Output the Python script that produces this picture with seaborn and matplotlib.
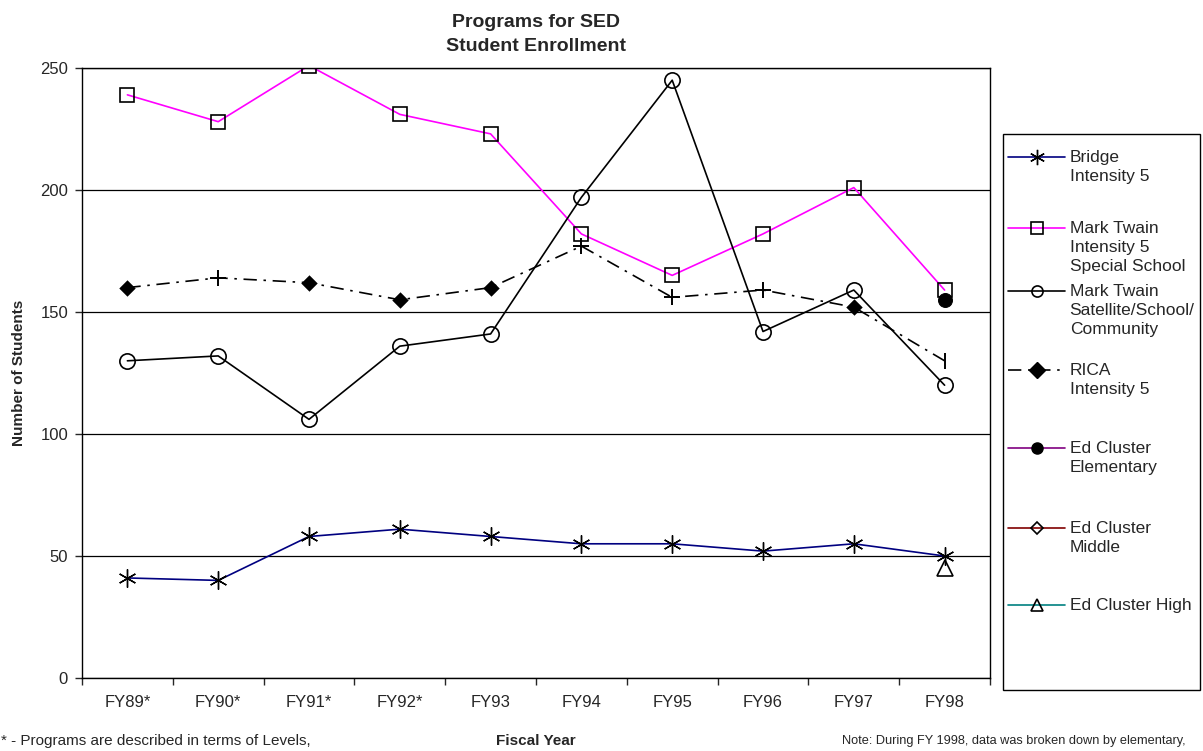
import numpy as np
import pandas as pd
import seaborn as sns
import matplotlib.pyplot as plt
from matplotlib.lines import Line2D
from matplotlib.patches import Rectangle
from matplotlib.ticker import FixedLocator

years = ['FY89*', 'FY90*', 'FY91*', 'FY92*', 'FY93', 'FY94', 'FY95', 'FY96', 'FY97', 'FY98']

bridge = [41, 40, 58, 61, 58, 55, 55, 52, 55, 50]
twain_special = [239, 228, 251, 231, 223, 182, 165, 182, 201, 159]
twain_satellite = [130, 132, 106, 136, 141, 197, 245, 142, 159, 120]
rica = [160, 164, 162, 155, 160, 177, 156, 159, 152, 130]
ed_elem_year, ed_elem = ['FY98'], [155]
ed_high_year, ed_high = ['FY98'], [45]

# markers drawn on the RICA line differ by point in the original
rica_marks = ['D', '+', 'D', 'D', 'D', '+', '+', '+', 'D', '|']

labels = ['Bridge\nIntensity 5', 'Mark Twain\nIntensity 5\nSpecial School',
          'Mark Twain\nSatellite/School/\nCommunity', 'RICA\nIntensity 5',
          'Ed Cluster\nElementary', 'Ed Cluster\nMiddle', 'Ed Cluster High']

sns.set_style('white')
plt.rcParams['font.family'] = ['Liberation Sans', 'DejaVu Sans']

W, H = 1203, 751
fig = plt.figure(figsize=(W / 100, H / 100), dpi=100)
ax = fig.add_axes([82 / W, 1 - 678 / H, (990 - 82) / W, (678 - 68) / H])

df = pd.DataFrame({'year': years, 'bridge': bridge, 'special': twain_special,
                   'satellite': twain_satellite, 'rica': rica})

lw = 1.2
rica_dash = (0, (8, 4, 1.5, 4))
sns.lineplot(data=df, x='year', y='bridge', ax=ax, color='#000080', lw=lw,
             marker=(6, 2, 0), markersize=13, mec='black', mew=1.0, sort=False)
sns.lineplot(data=df, x='year', y='special', ax=ax, color='#ff00ff', lw=lw,
             marker='s', markersize=10, mfc='none', mec='black', mew=1.2, sort=False)
sns.lineplot(data=df, x='year', y='satellite', ax=ax, color='black', lw=lw,
             marker='o', markersize=11, mfc='none', mec='black', mew=1.2, sort=False)
sns.lineplot(data=df, x='year', y='rica', ax=ax, color='black', lw=lw,
             linestyle=rica_dash, sort=False)
for m in ['D', '+', '|']:
    sub = df[[k == m for k in rica_marks]]
    sns.scatterplot(data=sub, x='year', y='rica', ax=ax, marker=m, color='black',
                    s=70 if m == 'D' else 120, linewidth=1.4 if m != 'D' else 0,
                    edgecolor='black', zorder=4)
sns.lineplot(x=ed_elem_year, y=ed_elem, ax=ax, color='#800080', lw=lw,
             marker='o', markersize=10, mfc='black', mec='black')
sns.lineplot(x=ed_high_year, y=ed_high, ax=ax, color='#008080', lw=lw,
             marker='^', markersize=11, mfc='none', mec='black', mew=1.2)

ax.set_xlim(-0.5, 9.5)
ax.set_ylim(0, 250)
ax.set_yticks([0, 50, 100, 150, 200, 250])
ax.yaxis.grid(True, color='black', lw=0.9)
ax.set_axisbelow(True)
for s in ax.spines.values():
    s.set_color('black')
    s.set_linewidth(1.0)

ax.xaxis.set_minor_locator(FixedLocator(np.arange(-0.5, 10, 1)))
ax.tick_params(axis='x', which='major', length=0, pad=12, labelsize=12)
ax.tick_params(axis='x', which='minor', length=5, width=1, direction='out', bottom=True)
ax.tick_params(axis='y', length=5, width=1, direction='out', left=True, labelsize=12, pad=5)

ax.set_xlabel('')
ax.set_ylabel('Number of Students', fontsize=11, fontweight='bold', labelpad=10)
ax.set_title('Programs for SED\nStudent Enrollment', fontsize=14, fontweight='bold',
             pad=12, linespacing=1.6)

# legend: one entry per box, handle level with the first text line
handles = [
    Line2D([], [], color='#000080', lw=lw, marker=(6, 2, 0), ms=11, mec='black', mew=1.0),
    Line2D([], [], color='#ff00ff', lw=lw, marker='s', ms=8, mfc='none', mec='black', mew=1.2),
    Line2D([], [], color='black', lw=lw, marker='o', ms=8, mfc='none', mec='black', mew=1.2),
    Line2D([], [], color='black', lw=lw, ls=rica_dash, marker='D', ms=8, mfc='black', mec='black'),
    Line2D([], [], color='#800080', lw=lw, marker='o', ms=8, mfc='black', mec='black'),
    Line2D([], [], color='#800000', lw=lw, marker='D', ms=6, mfc='none', mec='black', mew=1.2),
    Line2D([], [], color='#008080', lw=lw, marker='^', ms=8, mfc='none', mec='black', mew=1.2),
]
first_line_y = [157, 228, 291, 370, 448, 528, 605]
for hnd, lab, yy in zip(handles, labels, first_line_y):
    lg = fig.legend([hnd], [lab], loc='upper left', bbox_to_anchor=(1008 / W, 1 - (yy - 7) / H),
                    fontsize=12.5, frameon=False, handlelength=3.3, handleheight=1.2,
                    handletextpad=0.25, borderpad=0, borderaxespad=0)
    for t in lg.get_texts():
        t.set_linespacing(1.32)
    try:
        for hp in lg._legend_handle_box.get_children()[0].get_children():
            hp.align = 'top'
    except Exception:
        pass
fig.add_artist(Rectangle((1003 / W, 1 - 690 / H), (1200 - 1003) / W, (690 - 134) / H,
                         transform=fig.transFigure, fill=False, ec='black', lw=1.0))

fig.text(536 / W, 1 - 741 / H, 'Fiscal Year', ha='center', va='center',
         fontsize=11, fontweight='bold')
fig.text(1 / W, 1 - 741 / H, '* - Programs are described in terms of Levels,',
         ha='left', va='center', fontsize=11)
fig.text(842 / W, 1 - 741 / H,
         'Note: During FY 1998, data was broken down by elementary,',
         ha='left', va='center', fontsize=9.2)

fig.savefig('out.png', dpi=100)
